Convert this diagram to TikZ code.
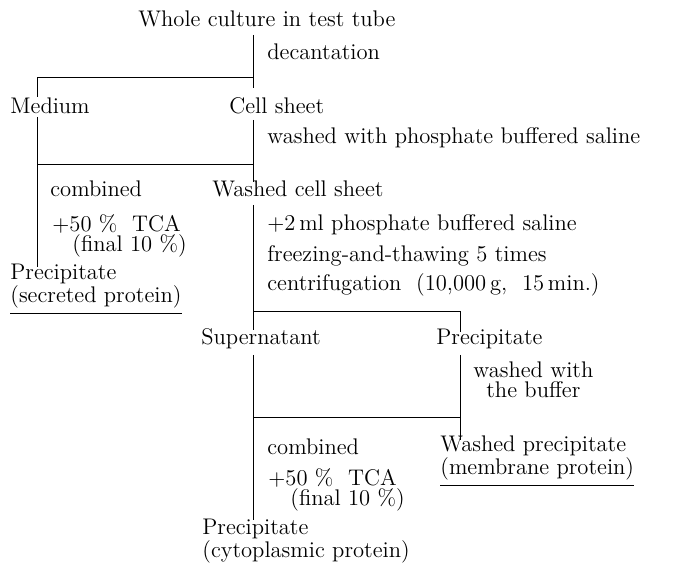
\documentclass[tikz,border=0pt]{standalone}

\tikzset{
    stage/.style={
        anchor=base west,
        inner sep=0pt,
        font=\fontsize{11.3}{10.4}\selectfont
    },
    twoline/.style={
        stage,
        align=left
    },
    flow/.style={
        line width=.5pt
    }
}

\begin{document}
\begin{tikzpicture}[x=.5pt, y=-.5pt]
    \useasboundingbox (0,0) rectangle (675,565);

    % Ausgangsmaterial und Dekantieren
    \path
        node[stage] at (138, 27) (whole)  {Whole culture in test tube}
        node[stage] at (267, 60) (decant) {decantation}
        node[stage] at ( 10,114) (medium) {Medium}
        node[stage] at (229,114) (cell)   {Cell sheet}
        node[stage] at (267,144) (wash1)  {washed with phosphate buffered saline};

    % Linker Zweig: Medium
    \path
        node[stage]   at ( 50,197) (comb1) {combined}
        node[twoline] at ( 52,252) (tca1)  {$+$50 \% \ TCA\\\hspace{10pt}(final 10 \%)}
        node[twoline] at ( 10,303) (secr)  {Precipitate\\(secreted protein)};

    % Mittlerer Zweig: Zellrasen
    \path
        node[stage] at (212,197) (wcell)  {Washed cell sheet}
        node[stage] at (267,231) (pbs)    {$+$2\,ml phosphate buffered saline}
        node[stage] at (267,262) (freeze) {freezing-and-thawing 5 times}
        node[stage] at (267,291) (centr)  {centrifugation \ (10,000\,g, \ 15\,min.)}
        node[stage] at (201,345) (super)  {Supernatant}
        node[stage] at (436,345) (pellet) {Precipitate};

    % Rechter Zweig und Vereinigung
    \path
        node[stage,align=center] at (473,398) (wash2) {washed with\\the buffer}
        node[stage]   at (267,455) (comb2) {combined}
        node[twoline] at (268,506) (tca2)  {$+$50 \% \ TCA\\\hspace{11pt}(final 10 \%)}
        node[twoline] at (440,475) (memb)  {Washed precipitate\\(membrane protein)}
        node[twoline] at (202,558) (cyto)  {Precipitate\\(cytoplasmic protein)};

    % Stamm- und Verzweigungspunkte
    \coordinate (t0) at (253, 35);
    \coordinate (t1) at (253, 88);
    \coordinate (s1) at (253, 78);
    \coordinate (m1) at ( 37, 78);
    \coordinate (m2) at ( 37, 97);
    \coordinate (m3) at ( 37,117);
    \coordinate (m4) at ( 37,267);
    \coordinate (t2) at (253,120);
    \coordinate (t3) at (253,182);
    \coordinate (c1) at (253,165);
    \coordinate (m5) at ( 37,165);
    \coordinate (t4) at (253,205);
    \coordinate (t5) at (253,330);
    \coordinate (s2) at (253,312);
    \coordinate (p1) at (460,312);
    \coordinate (p2) at (460,332);
    \coordinate (t6) at (253,355);
    \coordinate (t7) at (253,520);
    \coordinate (p3) at (460,355);
    \coordinate (p4) at (460,440);
    \coordinate (c2) at (253,418);
    \coordinate (p5) at (460,418);

    % Linien
    \draw[flow] (t0) -- (t1);
    \draw[flow] (m2) -- (m1) -- (s1);
    \draw[flow] (t2) -- (t3);
    \draw[flow] (m3) -- (m4);
    \draw[flow] (m5) -- (c1);
    \draw[flow] (t4) -- (t5);
    \draw[flow] (s2) -- (p1) -- (p2);
    \draw[flow] (t6) -- (t7);
    \draw[flow] (p3) -- (p4);
    \draw[flow] (c2) -- (p5);

    % Unterstreichungen
    \draw[flow] ([yshift=-2pt]secr.south west) -- ([yshift=-2pt]secr.south east);
    \draw[flow] ([yshift=-2pt]memb.south west) -- ([yshift=-2pt]memb.south east);
\end{tikzpicture}
\end{document}
